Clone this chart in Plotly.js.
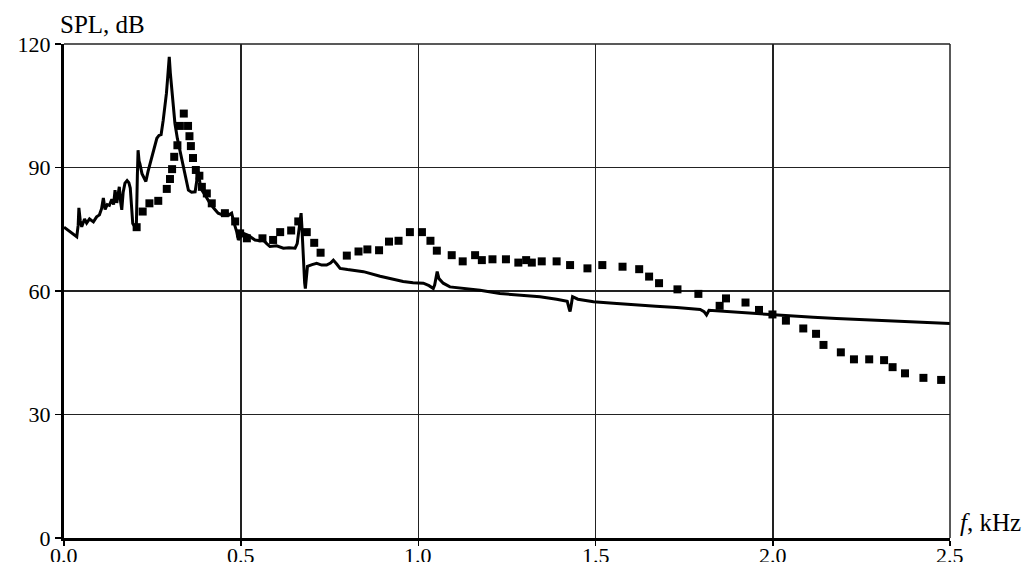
<!DOCTYPE html>
<html>
<head>
<meta charset="utf-8">
<script src="https://cdn.plot.ly/plotly-3.0.1.min.js"></script>
<style>html,body{margin:0;padding:0;background:#fff;}#chart{width:1024px;height:562px;}</style>
</head>
<body>
<div id="chart"></div>
<script>
// Solid line: calculated SPL spectrum
const lineF = [0.000,0.010,0.025,0.036,0.040,0.042,0.046,0.050,0.058,0.064,0.072,0.083,0.092,0.100,0.106,0.111,0.116,0.122,0.128,0.135,0.140,0.144,0.149,0.153,0.156,0.160,0.163,0.167,0.172,0.178,0.183,0.187,0.190,0.194,0.200,0.204,0.207,0.209,0.212,0.214,0.220,0.226,0.231,0.237,0.243,0.250,0.256,0.262,0.268,0.274,0.280,0.285,0.289,0.292,0.295,0.297,0.300,0.304,0.308,0.313,0.320,0.327,0.334,0.341,0.347,0.351,0.360,0.370,0.375,0.379,0.384,0.389,0.400,0.412,0.424,0.435,0.447,0.459,0.466,0.473,0.480,0.487,0.492,0.500,0.506,0.520,0.539,0.553,0.562,0.572,0.581,0.600,0.619,0.635,0.652,0.658,0.663,0.669,0.671,0.673,0.676,0.679,0.681,0.684,0.687,0.700,0.713,0.727,0.741,0.752,0.760,0.770,0.779,0.800,0.845,0.892,0.930,0.957,0.985,1.014,1.030,1.042,1.046,1.050,1.053,1.058,1.070,1.089,1.127,1.174,1.230,1.290,1.343,1.390,1.409,1.420,1.426,1.428,1.431,1.435,1.450,1.494,1.550,1.607,1.670,1.729,1.795,1.806,1.813,1.820,1.870,1.926,2.001,2.060,2.114,2.180,2.255,2.330,2.396,2.450,2.500];
const lineSPL = [75.5,74.8,73.8,73.2,76,80.2,77,75.6,77.5,76.5,77.5,76.8,78,78.5,80,82.6,79.8,81,80.8,82.3,81,84.5,81.4,83.5,85.3,81.5,79.7,84,86.2,86.8,86.3,85,80,76.4,75.6,75.2,88,94.2,91.5,91,88.5,87.5,86.6,89,91,93.5,95.5,97.1,97.8,98,101.5,104.8,108,111.2,115,116.9,113,108.8,104.5,100.7,97,94.2,91.5,88.6,86.5,84.5,84,84.1,87,89,86,84.5,83,81.3,80,78.9,78.5,78.9,78.5,78.9,76.5,74.5,72.4,73.5,74,73.5,72.4,72.2,72.4,71.5,70.8,71,70.4,70.5,70.4,71.5,74.5,78.9,76,71.6,66,62,60.6,64,66,66.4,66.7,66.3,66.3,66.8,67.5,66.5,65.5,65.2,64.7,63.6,62.8,62.3,62,61.9,61.3,60.6,61.5,63.5,64.7,63,61.9,61,60.6,60.2,59.4,58.9,58.6,58,57.8,57.5,55.5,55,56.5,58.6,58,57.4,57,56.6,56.3,56,55.5,55,54.2,55.3,55,54.6,54.2,53.9,53.6,53.3,53,52.7,52.5,52.3,52.1];

// Square markers: measured SPL spectrum
const markF = [0.205,0.222,0.241,0.266,0.290,0.299,0.305,0.311,0.320,0.327,0.338,0.350,0.354,0.358,0.364,0.372,0.382,0.389,0.403,0.417,0.454,0.483,0.497,0.516,0.560,0.590,0.610,0.641,0.661,0.685,0.706,0.724,0.798,0.831,0.856,0.889,0.917,0.944,0.976,1.010,1.034,1.052,1.094,1.125,1.160,1.179,1.209,1.247,1.282,1.304,1.320,1.348,1.390,1.428,1.477,1.519,1.576,1.623,1.651,1.679,1.731,1.790,1.850,1.868,1.923,1.961,1.999,2.037,2.086,2.122,2.143,2.192,2.229,2.272,2.314,2.338,2.373,2.425,2.475];
const markSPL = [75.5,79.3,81.3,81.9,84.8,87.2,89.6,92.6,95.4,100.1,103.1,100.1,97.6,95.2,92.3,89.4,88,85.3,83.7,81.3,78.9,76.9,74,72.8,72.8,72.4,74.3,74.7,76.9,74.3,71.7,69.3,68.6,69.6,70.1,69.9,72,72.2,74.3,74.3,72.2,69.8,68.7,67.2,68.7,67.5,67.7,67.7,66.9,67.5,66.9,67.2,67.2,66.3,65.5,66.3,65.9,65.3,63.5,61.9,60.4,59.3,56.4,58.2,57.2,55.4,54.3,52.8,50.9,49.6,46.9,45.1,43.4,43.4,43.2,41.5,40,38.9,38.4];

const xTicks = [0, 0.5, 1.0, 1.5, 2.0, 2.5];
const xTickText = ["0.0", "0.5", "1.0", "1.5", "2.0", "2.5"];
const yTicks = [0, 30, 60, 90, 120];

const serif = "'Liberation Serif', 'Times New Roman', Times, serif";

const traces = [
  {
    x: markF, y: markSPL, type: "scatter", mode: "markers",
    marker: {symbol: "square", size: 8, color: "#000"},
    hoverinfo: "skip", showlegend: false
  },
  {
    x: lineF, y: lineSPL, type: "scatter", mode: "lines",
    line: {color: "#000", width: 3},
    hoverinfo: "skip", showlegend: false
  }
];

const annotations = [
  {text: "SPL, dB", xref: "paper", yref: "paper", x: 0, y: 1, xanchor: "left", yanchor: "bottom",
   xshift: -6, yshift: 4, showarrow: false, font: {family: serif, size: 25, color: "#000"}},
  {text: "<i>f</i>, kHz", xref: "paper", yref: "paper", x: 1, y: 0, xanchor: "left", yanchor: "bottom",
   xshift: 8, yshift: 0, showarrow: false, font: {family: serif, size: 25, color: "#000"}}
];
// x tick labels (placed as in the reference, partly below the picture's edge)
xTicks.forEach((v, i) => {
  annotations.push({text: xTickText[i], xref: "x", yref: "paper", x: v, y: 0,
    xanchor: "center", yanchor: "top", yshift: -3, showarrow: false,
    font: {family: serif, size: 22, color: "#000"}});
});

const layout = {
  width: 1024, height: 562,
  margin: {l: 64, r: 74, t: 44, b: 24, pad: 0},
  paper_bgcolor: "#fff", plot_bgcolor: "#fff",
  showlegend: false,
  font: {family: serif, size: 22, color: "#000"},
  xaxis: {
    range: [0, 2.5], tickvals: xTicks, showticklabels: false,
    showgrid: true, gridcolor: "#222", gridwidth: 1.5,
    showline: true, linecolor: "#000", linewidth: 3,
    ticks: "outside", ticklen: 5, tickwidth: 1.5, tickcolor: "#000",
    zeroline: false, fixedrange: true
  },
  yaxis: {
    range: [0, 120], tickvals: yTicks,
    showgrid: true, gridcolor: "#222", gridwidth: 1.5,
    showline: true, linecolor: "#000", linewidth: 3,
    ticks: "outside", ticklen: 6, tickwidth: 1.5, tickcolor: "#000",
    zeroline: false, fixedrange: true,
    tickfont: {family: serif, size: 22, color: "#000"}
  },
  shapes: [
    {type: "line", xref: "paper", yref: "paper", x0: 0, x1: 1, y0: 1, y1: 1, line: {color: "#222", width: 1.5}},
    {type: "line", xref: "paper", yref: "paper", x0: 1, x1: 1, y0: 0, y1: 1, line: {color: "#222", width: 1.5}}
  ],
  annotations: annotations
};

Plotly.newPlot("chart", traces, layout, {staticPlot: true, displayModeBar: false});
</script>
</body>
</html>
